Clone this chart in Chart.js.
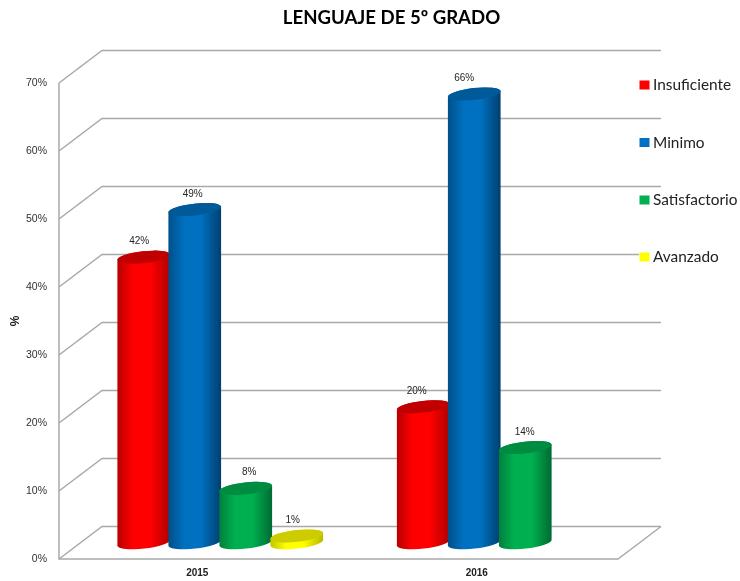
<!DOCTYPE html>
<html>
<head>
<meta charset="utf-8">
<style>html,body{margin:0;padding:0;background:#fff}canvas{display:block}</style>
<script src="https://cdn.jsdelivr.net/npm/chart.js@4"></script>
</head>
<body>
<canvas id="c" width="740" height="581"></canvas>
<script>
const categories = ['2015', '2016'];
const seriesNames = ['Insuficiente', 'Minimo', 'Satisfactorio', 'Avanzado'];
const insuficiente = [42, 20];
const minimo = [49, 66];
const satisfactorio = [8, 14];
const avanzado = [1, null];
const seriesColors = ['#ff0000', '#0070c0', '#00b050', '#ffff00'];
const topColors = ['#c00000', '#005a9a', '#008c40', '#cccc00'];
const edgeColors = [['#b80000', '#b00000'], ['#004f88', '#003f6e'], ['#00803c', '#006a32'], ['#c4c400', '#b8b800']];
const labelShifts = [[-4.5, -6.5], [-2, -10], [3.5, -0.5], [-4, 0]];
const tickValues = [0, 10, 20, 30, 40, 50, 60, 70];
const DEPTH_X = 43, DEPTH_Y = 32.5;
const GRID = '#a9a9a9';

function drawWalls(chart) {
  const { ctx, chartArea: a, scales: { y } } = chart;
  ctx.save();
  ctx.strokeStyle = GRID;
  ctx.lineWidth = 1.5;
  tickValues.forEach(v => {
    const py = y.getPixelForValue(v);
    ctx.beginPath();
    ctx.moveTo(a.left, py);
    ctx.lineTo(a.left + DEPTH_X, py - DEPTH_Y);
    ctx.lineTo(a.right + DEPTH_X, py - DEPTH_Y);
    ctx.stroke();
  });
  ctx.beginPath();
  ctx.moveTo(a.left, a.top);
  ctx.lineTo(a.left, a.bottom);
  ctx.lineTo(a.right, a.bottom);
  ctx.lineTo(a.right + DEPTH_X, a.bottom - DEPTH_Y);
  ctx.stroke();
  ctx.restore();
}

function drawCylinder(ctx, el, idx) {
  const ROT = -0.11, RY = 5.9;
  const cx = el.x + DEPTH_X / 2;
  const rx = el.width / 2 + 1;
  const yt = el.y - DEPTH_Y / 2;
  const yb = el.base - DEPTH_Y / 2;
  const g = ctx.createLinearGradient(cx - rx, 0, cx + rx, 0);
  g.addColorStop(0, edgeColors[idx][0]);
  g.addColorStop(0.3, seriesColors[idx]);
  g.addColorStop(0.62, seriesColors[idx]);
  g.addColorStop(1, edgeColors[idx][1]);
  ctx.beginPath();
  ctx.ellipse(cx, yb, rx, RY, ROT, Math.PI, 0, true);
  ctx.ellipse(cx, yt, rx, RY, ROT, 0, Math.PI, true);
  ctx.closePath();
  ctx.fillStyle = g;
  ctx.fill();
  ctx.beginPath();
  ctx.ellipse(cx, yt, rx, RY, ROT, 0, Math.PI * 2);
  ctx.fillStyle = topColors[idx];
  ctx.fill();
}

function drawLegend(chart) {
  const { ctx } = chart;
  const rows = [85, 142.5, 200, 257];
  ctx.save();
  ctx.textBaseline = 'middle';
  ctx.font = '15.4px Lato';
  chart.data.datasets.forEach((ds, i) => {
    ctx.fillStyle = '#ffffff';
    ctx.fillRect(639, rows[i] - 9, 101, 18);
    ctx.fillStyle = seriesColors[i];
    ctx.fillRect(639.5, rows[i] - 4.5, 10, 9);
    ctx.fillStyle = '#222222';
    ctx.fillText(ds.label, 653, rows[i] + 0.5);
  });
  ctx.restore();
}

const cylinders = {
  id: 'cylinders',
  afterLayout(chart) {
    chart.titleBlock.left = 43;
    chart.titleBlock.right = 740;
  },
  beforeDatasetsDraw(chart) {
    const { ctx } = chart;
    drawWalls(chart);
    chart.data.datasets.forEach((ds, i) => {
      chart.getDatasetMeta(i).data.forEach((el, j) => {
        if (ds.data[j] !== null) drawCylinder(ctx, el, i);
      });
    });
    ctx.save();
    ctx.font = '10px "Liberation Sans"';
    ctx.fillStyle = '#262626';
    ctx.textAlign = 'center';
    ctx.textBaseline = 'middle';
    chart.data.datasets.forEach((ds, i) => {
      chart.getDatasetMeta(i).data.forEach((el, j) => {
        if (ds.data[j] === null) return;
        ctx.fillText(ds.data[j] + '%', el.x + DEPTH_X / 2 + labelShifts[i][j], el.y - DEPTH_Y + 0.5);
      });
    });
    ctx.restore();
    drawLegend(chart);
    return false;
  }
};

const allValues = [insuficiente, minimo, satisfactorio, avanzado];

new Chart(document.getElementById('c'), {
  type: 'bar',
  plugins: [cylinders],
  data: {
    labels: categories,
    datasets: seriesNames.map((name, i) => ({
      label: name,
      data: allValues[i],
      backgroundColor: seriesColors[i]
    }))
  },
  options: {
    responsive: false,
    animation: false,
    devicePixelRatio: 1,
    layout: { padding: { left: 0, right: 122, top: 0, bottom: 0 } },
    datasets: { bar: { barPercentage: 1, categoryPercentage: 0.73 } },
    plugins: {
      legend: { display: false },
      tooltip: { enabled: false },
      title: {
        display: true,
        text: 'LENGUAJE DE 5º GRADO',
        color: '#000000',
        font: { family: 'Lato', size: 18.6, weight: 'bold' },
        padding: { top: 6.8, bottom: 53.9 }
      }
    },
    scales: {
      x: {
        grid: { display: false, drawTicks: false },
        border: { display: false },
        afterFit(s) { s.height = 22; },
        ticks: {
          padding: 8,
          labelOffset: -1.5,
          color: '#222222',
          font: { family: 'Liberation Sans', size: 10, weight: 'bold' }
        }
      },
      y: {
        min: 0,
        max: 70,
        grid: { display: false, drawTicks: false },
        border: { display: false },
        afterFit(s) { s.width = 59; },
        afterBuildTicks(s) { s.ticks = tickValues.map(value => ({ value })); },
        title: {
          display: true,
          text: '%',
          color: '#222222',
          padding: { top: 8, bottom: 0 },
          font: { family: 'Liberation Sans', size: 12, weight: 'bold' }
        },
        ticks: {
          padding: 12,
          color: '#303030',
          font: { family: 'Liberation Sans', size: 10.5 },
          callback: v => v + '%'
        }
      }
    }
  }
});
</script>
</body>
</html>
